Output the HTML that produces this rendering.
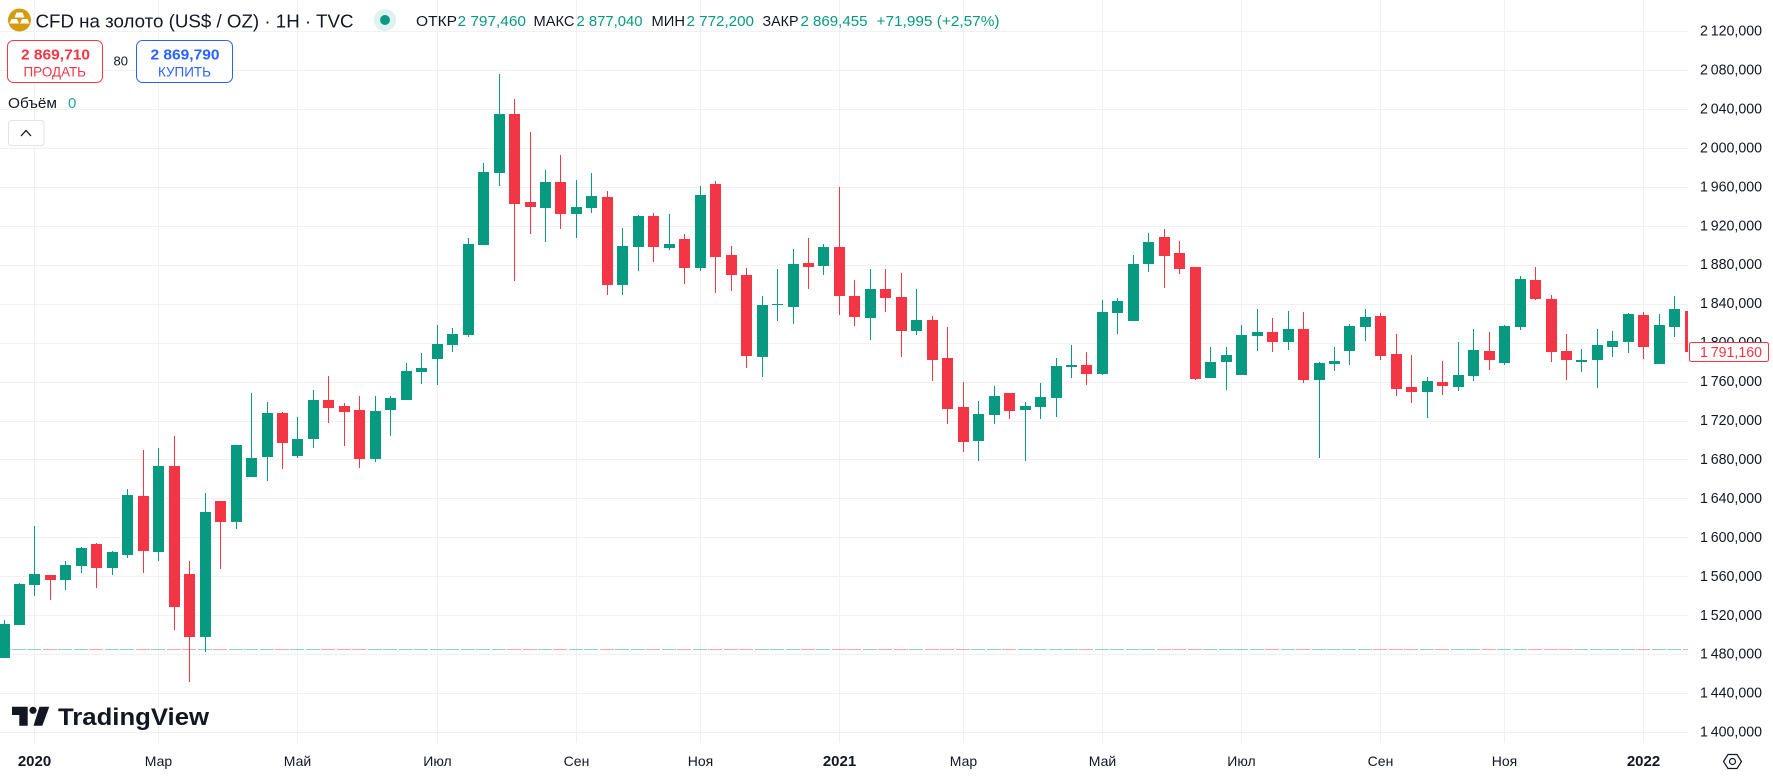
<!DOCTYPE html>
<html lang="ru">
<head>
<meta charset="utf-8">
<title>CFD на золото (US$ / OZ)</title>
<style>
html,body{margin:0;padding:0;background:#fff;width:1773px;height:777px;overflow:hidden}
svg{display:block;font-family:"Liberation Sans","DejaVu Sans",sans-serif}
</style>
</head>
<body>
<svg id="chart" xmlns="http://www.w3.org/2000/svg" width="1773" height="777" viewBox="0 0 1773 777">
  <defs><clipPath id="pane-clip"><rect x="0" y="0" width="1688" height="743"/></clipPath></defs>
  <rect x="0" y="0" width="1773" height="777" fill="#ffffff"/>
  <g id="grid"></g>
  <g id="volume" clip-path="url(#pane-clip)"></g>
  <g id="candles" clip-path="url(#pane-clip)"></g>
  <g id="price-axis"></g>
  <g id="time-axis"></g>

  <g>
    <rect x="1689.5" y="342.5" width="79" height="19" rx="2" fill="#ffffff" stroke="#f23645" stroke-width="1"/>
    <text id="last-price-text" x="1700" y="357" font-size="14.5" fill="#f23645" textLength="62" lengthAdjust="spacingAndGlyphs"></text>
  </g>

  <g>
    <circle cx="19.5" cy="20" r="11.5" fill="#d49b0c"/>
    <polygon points="16.5,12.5 22.5,12.5 24.5,17.5 14.5,17.5" fill="#ffffff"/>
    <polygon points="11.5,19 17,19 19,23.5 9.5,23.5" fill="#ffffff"/>
    <polygon points="22,19 27.5,19 29.5,23.5 20,23.5" fill="#ffffff"/>
  </g>
  <text x="35.5" y="27.5" font-size="18.5" fill="#131722" textLength="318" lengthAdjust="spacingAndGlyphs">CFD на золото (US$ / OZ) · 1H · TVC</text>
  <g>
    <circle cx="385" cy="20" r="11" fill="#e0f2ef"/>
    <circle cx="385" cy="20" r="5" fill="#089981"/>
  </g>

  <g font-size="15">
    <text x="416" y="26" fill="#131722" textLength="41" lengthAdjust="spacingAndGlyphs">ОТКР</text>
    <text x="457.5" y="26" fill="#089981" textLength="68.5" lengthAdjust="spacingAndGlyphs">2 797,460</text>
    <text x="533.5" y="26" fill="#131722" textLength="41" lengthAdjust="spacingAndGlyphs">МАКС</text>
    <text x="576.5" y="26" fill="#089981" textLength="66" lengthAdjust="spacingAndGlyphs">2 877,040</text>
    <text x="651.5" y="26" fill="#131722" textLength="33.5" lengthAdjust="spacingAndGlyphs">МИН</text>
    <text x="686.5" y="26" fill="#089981" textLength="67.5" lengthAdjust="spacingAndGlyphs">2 772,200</text>
    <text x="762.5" y="26" fill="#131722" textLength="36" lengthAdjust="spacingAndGlyphs">ЗАКР</text>
    <text x="800.5" y="26" fill="#089981" textLength="67" lengthAdjust="spacingAndGlyphs">2 869,455</text>
    <text x="876.5" y="26" fill="#089981" textLength="123" lengthAdjust="spacingAndGlyphs">+71,995 (+2,57%)</text>
  </g>

  <g>
    <rect x="7.5" y="40.5" width="95" height="42" rx="6" fill="#ffffff" stroke="#f23645"/>
    <text x="21" y="59.5" font-size="15" font-weight="700" fill="#f23645" textLength="69" lengthAdjust="spacingAndGlyphs">2 869,710</text>
    <text x="23.5" y="76.5" font-size="14" fill="#f23645" textLength="62.5" lengthAdjust="spacingAndGlyphs">ПРОДАТЬ</text>
  </g>
  <text x="113.5" y="65.5" font-size="13" fill="#131722">80</text>
  <g>
    <rect x="136.5" y="40.5" width="96" height="42" rx="6" fill="#ffffff" stroke="#2962ff"/>
    <text x="150.5" y="59.5" font-size="15" font-weight="700" fill="#2962ff" textLength="69" lengthAdjust="spacingAndGlyphs">2 869,790</text>
    <text x="158" y="76.5" font-size="14" fill="#2962ff" textLength="53" lengthAdjust="spacingAndGlyphs">КУПИТЬ</text>
  </g>
  <text x="8" y="108" font-size="15" fill="#131722" textLength="49" lengthAdjust="spacingAndGlyphs">Объём</text>
  <text x="68" y="108" font-size="15" fill="#26a69a">0</text>
  <g>
    <rect x="8.5" y="120.5" width="35.5" height="25" rx="3" fill="#ffffff" stroke="#e0e3eb"/>
    <path d="M21 136 L26 130.5 L31 136" fill="none" stroke="#131722" stroke-width="1.3"/>
  </g>

  <g>
    <path d="M12 706.7 H27.7 V725.7 H19.3 V715 H12 Z" fill="#131722"/>
    <circle cx="33" cy="710.3" r="3.6" fill="#131722"/>
    <polygon points="39.5,706.7 49.3,706.7 42.3,725.7 33.5,725.7" fill="#131722"/>
    <text x="58" y="725" font-size="24" font-weight="700" fill="#131722" textLength="151" lengthAdjust="spacingAndGlyphs">TradingView</text>
  </g>

  <g fill="none" stroke="#131722" stroke-width="1.2">
    <polygon points="1723.5,761.5 1728,754.5 1737,754.5 1741.5,761.5 1737,768.5 1728,768.5"/>
    <circle cx="1732.5" cy="761.5" r="3"/>
  </g>
</svg>

<script>
const highs = [
1515.6,1553.6,1612.2,1561.8,1576.2,1590.6,1594.7,1586.5,1650.2,1690.2,
1692.3,1704.6,1576.2,1646.1,1637.8,1695.4,1748.8,1739.5,1729.2,1724.1,
1751.8,1766.2,1738.5,1745.7,1745.7,1745.7,1779.6,1789.8,1818.6,1815.5,
1907.9,1984.9,2076.4,2050.7,2016.8,1977.8,1993.2,1967.5,1974.7,1956.2,
1918.2,1931.6,1933.6,1932.6,1912.0,1961.3,1966.5,1899.8,1877.1,1848.4,
1876.1,1896.7,1907.9,1901.8,1960.3,1864.8,1876.1,1876.1,1872.0,1855.6,
1827.8,1816.5,1760.0,1740.5,1755.9,1748.8,1739.5,1759.0,1784.7,1798.0,
1790.8,1844.3,1846.3,1890.5,1913.0,1917.2,1904.9,1878.1,1796.0,1796.0,
1818.6,1835.0,1825.8,1833.0,1832.0,1780.6,1796.0,1819.6,1835.0,1830.9,
1809.3,1787.8,1765.2,1781.6,1801.1,1814.5,1811.4,1818.6,1868.9,1878.1,
1849.4,1809.3,1794.0,1814.5,1812.4,1830.9,1832.0,1829.9,1848.4,1840.0];

const opens = [
1476.6,1510.5,1551.6,1561.8,1556.7,1571.1,1593.7,1569.0,1582.4,1643.0,
1585.4,1673.8,1562.9,1498.2,1637.8,1616.3,1662.5,1683.0,1728.2,1684.0,
1701.5,1741.6,1735.4,1731.3,1681.0,1731.3,1741.6,1770.3,1783.7,1798.0,
1808.3,1900.8,1974.7,2035.3,1944.9,1938.7,1965.4,1932.6,1938.7,1950.0,
1859.7,1898.7,1930.5,1897.7,1906.9,1877.1,1963.4,1890.5,1870.0,1785.7,
1839.1,1837.1,1882.3,1879.2,1898.7,1848.4,1825.8,1855.6,1847.3,1812.4,
1823.7,1784.7,1734.4,1699.5,1726.2,1748.8,1731.3,1734.4,1743.6,1775.5,
1777.5,1768.3,1830.9,1822.7,1881.2,1909.0,1892.5,1878.1,1764.2,1780.6,
1767.2,1807.3,1811.4,1801.1,1814.5,1762.1,1778.5,1791.9,1816.5,1827.8,
1788.8,1754.9,1749.8,1760.0,1754.9,1766.2,1791.9,1779.6,1816.5,1864.8,
1845.3,1791.9,1780.6,1782.6,1796.0,1801.1,1828.9,1778.5,1816.5,1833.0];

const closes = [
1511.5,1552.6,1562.9,1556.7,1572.1,1589.6,1569.0,1585.4,1644.0,1586.5,
1673.8,1529.0,1498.2,1626.5,1616.3,1695.4,1682.0,1728.2,1697.4,1701.5,
1741.6,1733.3,1729.2,1681.0,1730.3,1743.6,1771.3,1774.4,1799.1,1809.3,
1901.8,1975.7,2035.3,1942.9,1939.8,1965.4,1932.6,1939.8,1951.0,1859.7,
1899.8,1930.5,1898.7,1901.8,1877.1,1952.0,1888.5,1870.0,1786.8,1839.1,
1840.1,1881.2,1878.1,1898.7,1848.4,1826.8,1855.6,1846.3,1812.4,1823.7,
1782.6,1732.2,1698.4,1727.2,1745.7,1730.3,1735.4,1744.6,1776.5,1777.5,
1768.3,1832.0,1843.2,1881.2,1903.8,1889.5,1876.1,1763.1,1780.6,1787.8,
1808.3,1811.4,1801.1,1814.5,1762.1,1779.6,1781.6,1817.6,1826.8,1786.8,
1752.9,1749.8,1761.0,1755.9,1767.2,1792.9,1782.6,1817.6,1865.8,1845.3,
1790.8,1782.6,1782.6,1798.0,1802.2,1829.9,1796.0,1818.6,1835.0,1791.16];

const lows = [
1476.6,1510.5,1540.3,1536.2,1546.4,1563.9,1548.5,1561.8,1579.3,1563.9,
1576.2,1505.4,1452.0,1482.8,1568.0,1609.1,1662.5,1658.4,1670.8,1682.0,
1692.3,1717.9,1694.3,1671.8,1677.9,1704.6,1741.6,1758.0,1757.0,1790.8,
1806.3,1900.8,1961.3,1863.8,1912.0,1903.8,1917.2,1907.9,1933.6,1849.4,
1849.4,1874.0,1883.3,1895.6,1860.7,1874.0,1851.5,1853.5,1774.4,1765.2,
1822.7,1819.6,1855.6,1870.0,1828.9,1817.6,1803.2,1832.0,1785.7,1808.3,
1761.0,1716.9,1688.2,1678.9,1716.9,1722.0,1678.9,1722.0,1724.1,1764.2,
1757.0,1767.2,1809.3,1822.7,1873.0,1856.6,1871.0,1762.1,1764.2,1751.8,
1767.2,1791.9,1790.8,1792.9,1759.0,1682.0,1771.3,1777.5,1802.2,1782.6,
1745.7,1738.5,1723.1,1746.7,1750.8,1761.0,1772.4,1777.5,1813.4,1844.3,
1780.6,1762.1,1770.3,1753.9,1785.7,1789.8,1783.7,1778.5,1806.3,1780.0];

const priceTicks = [2120,2080,2040,2000,1960,1920,1880,1840,1800,1760,1720,1680,1640,1600,1560,1520,1480,1440,1400];
const timeTickLabels = ["2020","Мар","Май","Июл","Сен","Ноя","2021","Мар","Май","Июл","Сен","Ноя","2022"];
const timeTickCandles = [2,10,19,28,37,45,54,62,71,80,89,97,106];
const yearTicks = ["2020","2021","2022"];

const NS = "http://www.w3.org/2000/svg";
const GREEN = "#089981", RED = "#f23645";

function xScale(i){ return Math.round(3.55 + 15.47 * i); }
function yScale(v){ return 31.5 + (2120 - v) * 0.97375; }
function volumeY(volume){ return 649 - volume * 0.01; }
function fmt(v){
  const s = v.toFixed(3).replace(".", ",");
  const p = s.split(",");
  return p[0].replace(/\B(?=(\d{3})+$)/g, "\u2009") + "," + p[1];
}
function make(tag, attrs, parent){
  const el = document.createElementNS(NS, tag);
  for (const k in attrs) el.setAttribute(k, attrs[k]);
  parent.appendChild(el);
  return el;
}

const gridG = document.getElementById("grid");
const priceG = document.getElementById("price-axis");
const timeG = document.getElementById("time-axis");
const volG = document.getElementById("volume");
const candleG = document.getElementById("candles");

priceTicks.forEach(function(t){
  const y = yScale(t);
  const line = make("rect", {x:0, y:Math.floor(y), width:1688, height:1, fill:"#f1f1f3"}, gridG);
  
  
  const label = make("text", {x:1700, y:y + 4, "font-size":14.5, fill:"#131722", textLength:62, lengthAdjust:"spacingAndGlyphs"}, priceG);
  label.textContent = fmt(t);
  
  
});

timeTickLabels.forEach(function(lbl, k){
  const x = xScale(timeTickCandles[k]);
  const line = make("rect", {x:x, y:0, width:1, height:743, fill:"#f1f1f3"}, gridG);
  
  
  const bold = yearTicks.indexOf(lbl) >= 0;
  const label = make("text", {x:x + 0.5, y:766, "text-anchor":"middle", "font-size":bold ? 15 : 14, "font-weight":bold ? 700 : 400, fill:"#131722"}, timeG);
  label.textContent = lbl;
  
  
});

const volumes = opens.map(function(){ return 0; });

opens.forEach(function(o, i){
  const c = closes[i];
  const color = c >= o ? GREEN : RED;
  const x = xScale(i);

  const vTop = volumeY(volumes[i]);
  const vol = make("rect", {x:x - 7, y:vTop, width:14, height:Math.max(1, 649 - vTop + 1), fill:color, "fill-opacity":0.45}, volG);
  
  

  const g = make("g", {}, candleG);
  
  

  const hy = Math.round(yScale(highs[i]));
  const ly = Math.round(yScale(lows[i]));
  const wick = make("rect", {x:x, y:hy, width:1, height:Math.max(1, ly - hy), fill:color}, g);
  
  

  const top = Math.round(yScale(Math.max(o, c)));
  const bot = Math.round(yScale(Math.min(o, c)));
  const body = make("rect", {x:x - 5, y:top, width:11, height:Math.max(1, bot - top), fill:color}, g);
  
  
});

document.getElementById("last-price-text").textContent = fmt(closes[closes.length - 1]);
</script>
</body>
</html>
